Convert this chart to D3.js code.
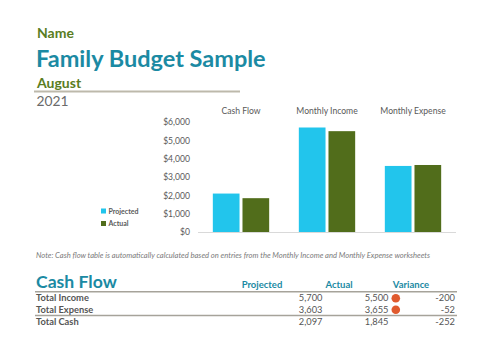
<!DOCTYPE html>
<html>
<head>
<meta charset="utf-8">
<script src="https://cdn.jsdelivr.net/npm/d3@7"></script>
<style>
  html, body { margin: 0; padding: 0; background: #fff; }
  svg { display: block; font-family: Lato, "Open Sans", sans-serif; }
</style>
</head>
<body>
<svg id="chart" width="500" height="357"></svg>
<script>
// ---- Data ----
const categories = ["Cash Flow", "Monthly Income", "Monthly Expense"];
const seriesNames = ["Projected", "Actual"];
const projectedValues = [2097, 5700, 3603];
const actualValues = [1845, 5500, 3655];
const yTickValues = [0, 1000, 2000, 3000, 4000, 5000, 6000];

const tableRowLabels = ["Total Income", "Total Expense", "Total Cash"];
const tableProjected = [5700, 3603, 2097];
const tableActual = [5500, 3655, 1845];
const tableVariance = [-200, -52, -252];
const tableHeaders = ["Projected", "Actual", "Variance"];

// ---- Styles ----
const colProjected = "#22c5ec";
const colActual = "#516d1b";
const teal = "#1b8aa3";
const green = "#5a7d22";
const textGray = "#595959";

const svg = d3.select("#chart");

// ---- Header ----
svg.append("text").attr("x", 37).attr("y", 38).attr("fill", green)
  .attr("font-size", 14).attr("font-weight", 700).text("Name");
svg.append("text").attr("x", 36).attr("y", 66.5).attr("fill", teal)
  .attr("font-size", 23.5).attr("font-weight", 700).text("Family Budget Sample");
svg.append("text").attr("x", 37).attr("y", 87.5).attr("fill", green)
  .attr("font-size", 14).attr("font-weight", 700).text("August");
svg.append("line").attr("x1", 34).attr("x2", 240).attr("y1", 91.5).attr("y2", 91.5)
  .attr("stroke", "#bdb9ab").attr("stroke-width", 1.8);
svg.append("text").attr("x", 36.5).attr("y", 106).attr("fill", "#6b6b6b")
  .attr("font-size", 13.8).attr("font-weight", 400).text("2021");

// ---- Chart ----
const x = d3.scaleBand().domain(categories).range([198, 456]);
const xs = d3.scaleBand().domain(seriesNames).range([0, x.bandwidth()])
  .paddingInner(0.1).paddingOuter(0.5);
const y = d3.scaleLinear().domain([0, 6000]).range([232, 122]);

// y axis labels
const yAxis = d3.axisLeft(y).tickValues(yTickValues)
  .tickFormat(d => "$" + d3.format(",")(d)).tickSize(0).tickPadding(0);
const gy = svg.append("g").attr("transform", "translate(190,0)").call(yAxis);
gy.select(".domain").remove();
gy.selectAll("text").attr("fill", textGray).attr("font-size", 8.6)
  .attr("font-family", "Lato, sans-serif");

// baseline
svg.append("line").attr("x1", 198).attr("x2", 456).attr("y1", y(0) + 0.5).attr("y2", y(0) + 0.5)
  .attr("stroke", "#d9d9d9").attr("stroke-width", 1);

// category labels on top
const xAxis = d3.axisTop(x).tickSize(0).tickPadding(0);
const gx = svg.append("g").attr("transform", "translate(0,114)").call(xAxis);
gx.select(".domain").remove();
gx.selectAll("text").attr("fill", textGray).attr("font-size", 8.6)
  .attr("font-family", "Lato, sans-serif");

const barData = [];
categories.forEach((c, i) => {
  barData.push({ cat: c, s: "Projected", v: projectedValues[i] });
  barData.push({ cat: c, s: "Actual", v: actualValues[i] });
});
svg.append("g").selectAll("rect").data(barData).join("rect")
  .attr("x", d => x(d.cat) + xs(d.s))
  .attr("width", xs.bandwidth())
  .attr("y", d => y(d.v))
  .attr("height", d => y(0) - y(d.v))
  .attr("fill", d => d.s === "Projected" ? colProjected : colActual);

// legend
const legend = svg.append("g").selectAll("g").data(seriesNames).join("g")
  .attr("transform", (d, i) => `translate(101,${211 + i * 12.5})`);
legend.append("rect").attr("x", 0).attr("y", -2.5).attr("width", 5).attr("height", 5)
  .attr("fill", d => d === "Projected" ? colProjected : colActual);
legend.append("text").attr("x", 7.5).attr("y", 2.6).attr("font-size", 7)
  .attr("font-weight", 700).attr("fill", textGray).text(d => d);

// note
svg.append("text").attr("x", 36).attr("y", 258).attr("font-size", 7.6)
  .attr("font-style", "italic").attr("fill", "#7a7a7a")
  .text("Note: Cash flow table is automatically calculated based on entries from the Monthly Income and Monthly Expense worksheets");

// ---- Table ----
svg.append("text").attr("x", 36).attr("y", 287.5).attr("fill", teal)
  .attr("font-size", 17.6).attr("font-weight", 700).text("Cash Flow");

const headerX = [262, 339, 411];
svg.append("g").selectAll("text").data(tableHeaders).join("text")
  .attr("x", (d, i) => headerX[i]).attr("y", 287.5).attr("text-anchor", "middle")
  .attr("fill", teal).attr("font-size", 9.5).attr("font-weight", 700).text(d => d);

svg.append("line").attr("x1", 35).attr("x2", 457).attr("y1", 291.8).attr("y2", 291.8)
  .attr("stroke", "#a6a39a").attr("stroke-width", 1.4);
svg.append("line").attr("x1", 35).attr("x2", 457).attr("y1", 315.5).attr("y2", 315.5)
  .attr("stroke", "#a6a39a").attr("stroke-width", 1.4);

const rowY = [301, 312.5, 324.5];
const fmt = d3.format(",");
const rows = svg.append("g").selectAll("g").data(tableRowLabels).join("g");
rows.append("text").attr("x", 36).attr("y", (d, i) => rowY[i])
  .attr("font-size", 9.3).attr("font-weight", 700).attr("fill", "#555").text(d => d);
rows.append("text").attr("x", 322.5).attr("y", (d, i) => rowY[i]).attr("text-anchor", "end")
  .attr("font-size", 9.3).attr("fill", "#555").text((d, i) => fmt(tableProjected[i]));
rows.append("text").attr("x", 388.5).attr("y", (d, i) => rowY[i]).attr("text-anchor", "end")
  .attr("font-size", 9.3).attr("fill", "#555").text((d, i) => fmt(tableActual[i]));
rows.append("text").attr("x", 455).attr("y", (d, i) => rowY[i]).attr("text-anchor", "end")
  .attr("font-size", 9.3).attr("fill", "#555").text((d, i) => d3.format(",")(tableVariance[i]).replace("−", "-"));
// status dots for rows where actual differs from projected (not total row)
rows.filter((d, i) => i < 2).append("circle")
  .attr("cx", 395.8).attr("cy", (d, i) => rowY[i] - 2.8).attr("r", 4.3)
  .attr("fill", "#e05a2e");
</script>
</body>
</html>
